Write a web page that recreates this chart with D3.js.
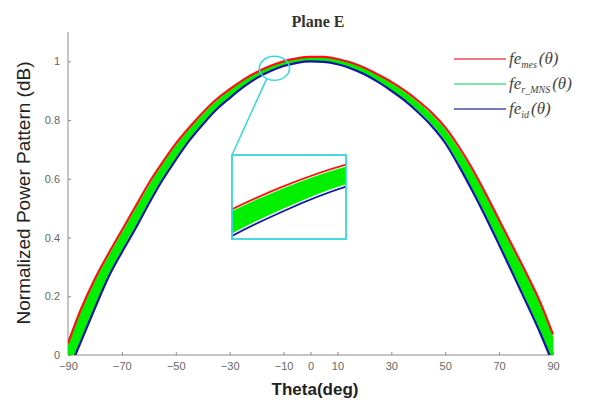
<!DOCTYPE html>
<html>
<head>
<meta charset="utf-8">
<script src="https://cdn.jsdelivr.net/npm/d3@7"></script>
<style>
  html, body { margin: 0; padding: 0; background: #fff; }
  svg { display: block; }
</style>
</head>
<body>
<svg id="chart" width="601" height="400"></svg>
<script>
// Angles (deg) at which the E-plane patterns are sampled
const theta = [-90,-85,-80,-75,-70,-65,-60,-55,-50,-45,-40,-35,-30,-25,-20,-15,-10,-5,0,
               5,10,15,20,25,30,35,40,45,50,55,60,65,70,75,80,85,90];

// Measured pattern
const feMes = [0.04,0.16,0.26,0.345,0.425,0.505,0.585,0.655,0.72,0.775,0.825,0.87,0.905,0.937,0.963,0.984,1.0,1.01,1.015,
               1.015,1.008,0.996,0.978,0.955,0.93,0.9,0.865,0.825,0.775,0.71,0.635,0.55,0.46,0.37,0.28,0.185,0.07];

// Envelope of the family of perturbed patterns (upper and lower bound)
const feRHigh = [0.03,0.15,0.25,0.335,0.415,0.495,0.575,0.647,0.712,0.768,0.818,0.864,0.9,0.934,0.9615,0.9825,0.9985,1.008,1.012,
                 1.012,1.005,0.993,0.975,0.951,0.925,0.894,0.858,0.817,0.766,0.7,0.625,0.54,0.45,0.36,0.27,0.175,0.06];
const feRLow  = [-0.05,0.06,0.17,0.275,0.36,0.44,0.525,0.604,0.673,0.737,0.791,0.84,0.879,0.915,0.945,0.968,0.986,0.997,1.003,
                 1.001,0.993,0.979,0.959,0.935,0.905,0.872,0.833,0.788,0.731,0.655,0.57,0.48,0.385,0.288,0.19,0.09,-0.02];

// Ideal pattern
const feId = [-0.06,0.05,0.16,0.265,0.35,0.43,0.515,0.595,0.665,0.73,0.785,0.835,0.875,0.912,0.943,0.966,0.984,0.995,1.0,
              0.998,0.99,0.976,0.956,0.93,0.9,0.866,0.826,0.78,0.722,0.645,0.56,0.47,0.375,0.278,0.18,0.08,-0.03];

// Axis ticks
const xTicks = [-90,-70,-50,-30,-10,0,10,30,50,70,90];
const yTicks = [0,0.2,0.4,0.6,0.8,1];

// Zoomed window shown in the inset
const zoomTheta = [-19,-10];
const zoomValue = [0.946,1.007];

// Legend entries
const legendItems = [
  {sub: "mes",   color: "#ec4a64"},
  {sub: "r_MNS", color: "#4ee088"},
  {sub: "id",    color: "#4a4aae"}
];

const svg = d3.select("#chart");
const W = 601, H = 400;
const M = {left: 68, right: 48, top: 32, bottom: 45};

const x = d3.scaleLinear().domain([-90, 90]).range([M.left, W - M.right]);
const y = d3.scaleLinear().domain([0, 1.1]).range([H - M.bottom, M.top]);

const rows = theta.map((t, i) => ({t, mes: feMes[i], hi: feRHigh[i], lo: feRLow[i], id: feId[i]}));

const defs = svg.append("defs");
defs.append("clipPath").attr("id", "plotClip")
  .append("rect")
  .attr("x", x(-90)).attr("y", y(1.1))
  .attr("width", x(90) - x(-90) + 4).attr("height", y(0) - y(1.1));

const colRed = "#ff1010", colGreen = "#00f000", colBlue = "#1414a8", colCyan = "#33d6e0";

function drawCurves(g, xs, ys, wLine, wBand) {
  const area = d3.area().x(d => xs(d.t)).y0(d => ys(d.lo)).y1(d => ys(d.hi)).curve(d3.curveMonotoneX);
  const line = key => d3.line().x(d => xs(d.t)).y(d => ys(d[key])).curve(d3.curveMonotoneX);
  g.append("path").datum(rows).attr("d", area).attr("fill", colGreen)
    .attr("stroke", colGreen).attr("stroke-width", wBand);
  g.append("path").datum(rows).attr("d", line("mes")).attr("fill", "none")
    .attr("stroke", colRed).attr("stroke-width", wLine);
  g.append("path").datum(rows).attr("d", line("id")).attr("fill", "none")
    .attr("stroke", colBlue).attr("stroke-width", wLine);
}

// Axes
const axisColor = "#8a8a8a", labelColor = "#666";
const fmtX = d => (d < 0 ? "\u2212" + Math.abs(d) : String(d));
const gx = svg.append("g").attr("transform", `translate(0,${y(0)})`)
  .call(d3.axisBottom(x).tickValues(xTicks).tickSize(-3).tickPadding(7).tickFormat(fmtX));
const gy = svg.append("g").attr("transform", `translate(${M.left},0)`)
  .call(d3.axisLeft(y).tickValues(yTicks).tickSize(-3).tickPadding(8).tickFormat(d => String(d)));
[gx, gy].forEach(g => {
  g.select(".domain").attr("stroke", axisColor).attr("stroke-width", 1);
  g.selectAll(".tick line").attr("stroke", axisColor);
  g.selectAll(".tick text").attr("fill", labelColor)
    .style("font-family", "Liberation Sans, Arial, sans-serif").style("font-size", "11px");
});
gx.select(".domain").attr("d", `M${x(-90)},0H${x(90)}`);
gy.select(".domain").attr("d", `M0,${y(0)}V${y(1.1)}`);

// Main curves
const plot = svg.append("g").attr("clip-path", "url(#plotClip)");
drawCurves(plot, x, y, 2.2, 1);

// Magnifier: ellipse over the zoomed window, leader line and inset box
const inset = {x: 232, y: 155, w: 114, h: 84};
const ex = x((zoomTheta[0] + zoomTheta[1]) / 2) + 3, ey = y((zoomValue[0] + zoomValue[1]) / 2);
const erx = Math.abs(x(zoomTheta[1]) - x(zoomTheta[0])) / 2 + 3;
const ery = Math.abs(y(zoomValue[1]) - y(zoomValue[0])) / 2 + 3;
svg.append("ellipse").attr("cx", ex).attr("cy", ey).attr("rx", erx).attr("ry", ery)
  .attr("fill", "none").attr("stroke", colCyan).attr("stroke-width", 1.5);
const a = 2.1;
svg.append("line")
  .attr("x1", ex + erx * Math.cos(a)).attr("y1", ey + ery * Math.sin(a))
  .attr("x2", inset.x).attr("y2", inset.y)
  .attr("stroke", colCyan).attr("stroke-width", 1.5);

const xi = d3.scaleLinear().domain(zoomTheta).range([inset.x, inset.x + inset.w]);
const yi = d3.scaleLinear().domain(zoomValue).range([inset.y + inset.h, inset.y]);
defs.append("clipPath").attr("id", "insetClip")
  .append("rect").attr("x", inset.x).attr("y", inset.y).attr("width", inset.w).attr("height", inset.h);
svg.append("rect").attr("x", inset.x).attr("y", inset.y).attr("width", inset.w).attr("height", inset.h)
  .attr("fill", "#fff");
const ig = svg.append("g").attr("clip-path", "url(#insetClip)");
drawCurves(ig, xi, yi, 1.8, 0.4);
svg.append("rect").attr("x", inset.x).attr("y", inset.y).attr("width", inset.w).attr("height", inset.h)
  .attr("fill", "none").attr("stroke", colCyan).attr("stroke-width", 1.8);

// Legend
const leg = svg.append("g").attr("transform", "translate(454,59)");
legendItems.forEach((d, i) => {
  const gi = leg.append("g").attr("transform", `translate(0,${i * 25})`);
  gi.append("line").attr("x1", 0).attr("x2", 52).attr("y1", 0).attr("y2", 0)
    .attr("stroke", d.color).attr("stroke-width", 1.5);
  const t = gi.append("text").attr("x", 55).attr("y", 5)
    .style("font-family", "Liberation Serif, Times New Roman, serif")
    .style("font-style", "italic").style("font-size", "17px").attr("fill", "#444");
  t.append("tspan").text("fe");
  t.append("tspan").attr("dy", 4).style("font-size", "10px").text(d.sub);
  t.append("tspan").attr("dy", -4).attr("dx", 2).text("(\u03b8)");
});

// Titles
svg.append("text").attr("x", 318).attr("y", 27).attr("text-anchor", "middle")
  .style("font-family", "Liberation Serif, Times New Roman, serif").style("font-weight", "bold")
  .style("font-size", "16px").attr("fill", "#333").text("Plane E");
svg.append("text").attr("x", 315).attr("y", 395).attr("text-anchor", "middle")
  .style("font-family", "Liberation Sans, Arial, sans-serif").style("font-weight", "bold")
  .style("font-size", "17px").attr("fill", "#222").text("Theta(deg)");
svg.append("text").attr("transform", "translate(30,193) rotate(-90)").attr("text-anchor", "middle")
  .style("font-family", "Liberation Sans, Arial, sans-serif")
  .style("font-size", "19px").attr("fill", "#222").text("Normalized Power Pattern (dB)");
</script>
</body>
</html>
